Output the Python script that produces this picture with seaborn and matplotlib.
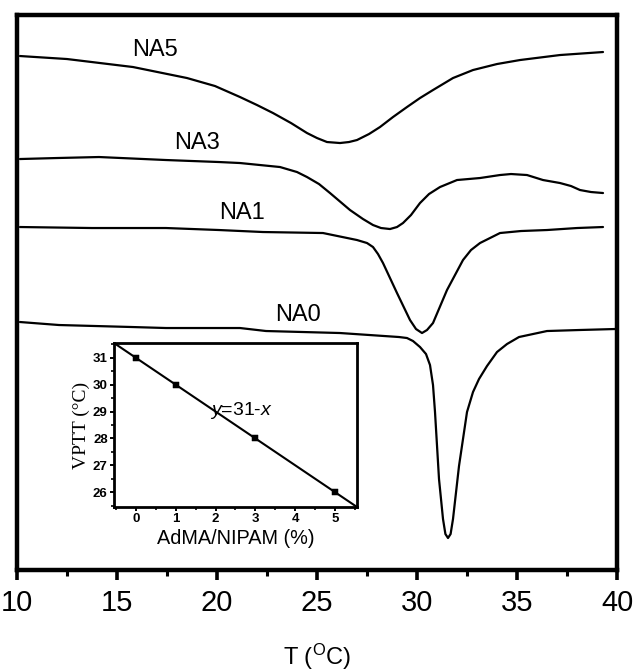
import matplotlib
matplotlib.use("Agg")
import matplotlib.pyplot as plt
from matplotlib import font_manager
from matplotlib.ticker import MultipleLocator
import seaborn as sns

# ---------------- data ----------------
na5_T = [10.15, 12.5, 15.8, 18.5, 19.9, 21.15, 22.0, 22.8, 23.7, 24.5, 25.0, 25.5, 26.15, 26.6, 27.0, 27.6, 28.15,
         28.8, 29.5, 30.15, 30.8, 31.8, 32.8, 34.0, 35.15, 37.15, 39.3]
na5_H = [514, 511, 503, 492, 484, 473, 465, 457, 447, 437, 432, 428, 427, 428, 430, 436, 443,
         453, 463, 472, 480, 492, 500, 506, 510, 515, 518]

na3_T = [10.15, 12.0, 14.1, 17.45, 20.1, 21.15, 23.15, 24.0, 24.5, 25.1, 25.65, 26.65, 27.3, 27.8, 28.2, 28.65,
         29.0, 29.3, 29.7, 30.15, 30.6, 31.15, 32.0, 33.15, 34.15, 34.7, 35.5, 36.3, 37.15, 37.7, 38.15, 38.7, 39.3]
na3_H = [411, 412, 413, 410, 408, 407, 403, 398, 393, 386, 377, 360, 351, 345, 342, 341,
         343, 347, 355, 367, 376, 383, 390, 392, 395, 396, 395, 390, 387, 384, 380, 378, 377]

na1_T = [10.15, 13.75, 17.45, 20.1, 22.3, 25.3, 27.0, 27.5, 27.8, 28.05, 28.3, 29.0, 29.65, 29.95, 30.25, 30.5,
         30.8, 31.5, 32.3, 32.7, 33.15, 34.15, 35.2, 36.5, 38.0, 39.3]
na1_H = [343, 342, 342, 340, 338, 337, 330, 327, 323, 316, 307, 277, 250, 241, 237, 240,
         247, 280, 310, 320, 327, 337, 339, 340, 342, 343]

na0_T = [10.15, 12.1, 15.75, 17.45, 21.15, 22.45, 26.15, 29.1, 29.5, 29.8, 30.15, 30.45, 30.65, 30.8, 30.9, 31.1,
         31.3, 31.42, 31.55, 31.68, 31.8, 32.1, 32.5, 32.8, 33.1, 33.5, 34.0, 34.5, 35.1, 36.5, 38.1, 39.9]
na0_H = [248, 245, 243, 242, 242, 239, 237, 233, 232, 229, 223, 216, 205, 185, 158, 91,
         51, 36, 32, 36, 51, 104, 158, 178, 191, 204, 218, 226, 233, 239, 240, 241]

series_names = ["NA5", "NA3", "NA1", "NA0"]
label_T = [16.9, 19.0, 21.25, 24.05]
label_H = [520, 427, 357, 255]

xticks_main = [10, 15, 20, 25, 30, 35, 40]

# inset data
adma_pct = [0, 1, 3, 5]
vptt = [31, 30, 28, 26]
fit_x = [-0.55, 5.55]
fit_y = [31.55, 25.45]

# ---------------- style ----------------
sns.set_theme(style="white")
names = {f.name for f in font_manager.fontManager.ttflist}
narrow = "Liberation Sans Narrow" if "Liberation Sans Narrow" in names else "Liberation Sans"
plt.rcParams["font.family"] = ["Liberation Sans", "DejaVu Sans"]
plt.rcParams["mathtext.fontset"] = "custom"
plt.rcParams["mathtext.rm"] = "Liberation Sans"
plt.rcParams["mathtext.it"] = "Liberation Sans:italic"

fig = plt.figure(figsize=(6.34, 6.71), dpi=100)
ax = fig.add_axes([0.0268, 0.1505, 0.9464, 0.8271])

curves = [(na5_T, na5_H), (na3_T, na3_H), (na1_T, na1_H), (na0_T, na0_H)]
for (t, h) in curves:
    sns.lineplot(x=t, y=h, ax=ax, color="black", lw=1.6, sort=False, estimator=None)

for name, lx, ly in zip(series_names, label_T, label_H):
    ax.text(lx, ly, name, fontsize=17, family=[narrow, "DejaVu Sans"], ha="center", va="center", color="black")

ax.set_xlim(10, 40)
ax.set_ylim(0, 555)
ax.set_yticks([])
ax.set_xticks(xticks_main)
ax.set_xticklabels([str(v) for v in xticks_main], family=[narrow, "DejaVu Sans"], fontsize=21)
ax.xaxis.set_minor_locator(MultipleLocator(2.5))
ax.tick_params(axis="x", which="major", direction="out", length=7.5, width=2.6, pad=6, bottom=True, colors="black")
ax.tick_params(axis="x", which="minor", direction="out", length=4, width=2.2, bottom=True, colors="black")
for s in ax.spines.values():
    s.set_color("black")
    s.set_linewidth(3.2)
ax.set_xlabel(r"T ($^{\mathrm{O}}$C)", fontsize=17, labelpad=18, color="black")
ax.set_ylabel("")

# ---------------- inset ----------------
ins = fig.add_axes([0.1798, 0.2444, 0.3833, 0.2444])
sns.lineplot(x=fit_x, y=fit_y, ax=ins, color="black", lw=1.5, sort=False, estimator=None)
sns.scatterplot(x=adma_pct, y=vptt, ax=ins, color="black", marker="s", s=20, edgecolor="black", zorder=3)
ins.set_xlim(-0.55, 5.55)
ins.set_ylim(25.45, 31.55)
ins.set_xticks([0, 1, 2, 3, 4, 5])
ins.set_yticks([26, 27, 28, 29, 30, 31])
ins.xaxis.set_minor_locator(MultipleLocator(0.5))
ins.yaxis.set_minor_locator(MultipleLocator(0.5))
ins.tick_params(axis="both", which="major", direction="out", length=3, width=1.4, labelsize=9.5, pad=1.5,
                bottom=True, left=True, colors="black")
ins.tick_params(axis="both", which="minor", direction="out", length=2, width=1.2, bottom=True, left=True, colors="black")
for lab in ins.get_xticklabels() + ins.get_yticklabels():
    lab.set_fontweight("bold")
for s in ins.spines.values():
    s.set_color("black")
    s.set_linewidth(2.0)
ins.set_xlabel("AdMA/NIPAM (%)", fontsize=14.3, labelpad=3, color="black")
ins.set_ylabel("VPTT (°C)", fontsize=14, family=["Liberation Serif", "DejaVu Serif"], labelpad=2, color="black")
ins.text(2.65, 29.05, r"$y$=31-$x$", fontsize=14, ha="center", va="center", color="black")

fig.savefig("out.png", dpi=100, facecolor="white")
